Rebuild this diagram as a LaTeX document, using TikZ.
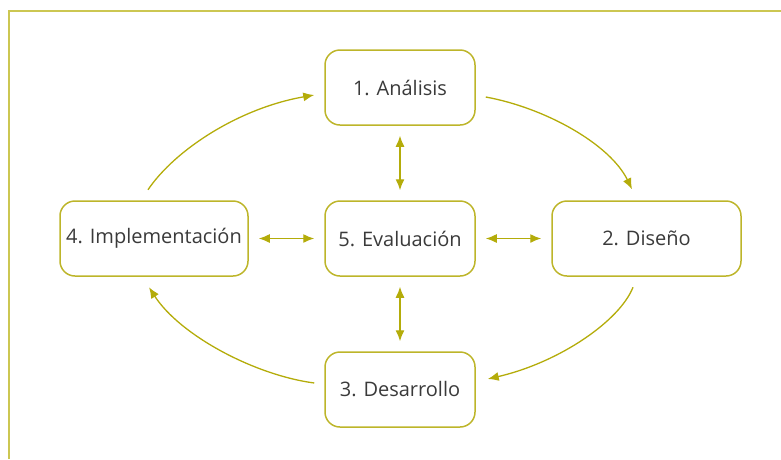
\documentclass[tikz,border=0pt]{standalone}
\usepackage{fontspec}
\setmainfont{Open Sans}
\usetikzlibrary{arrows.meta,calc}
\definecolor{oliva}{HTML}{B4AC0A}
\definecolor{borde}{HTML}{BDB52A}
\definecolor{marco}{HTML}{CCC752}
\definecolor{texto}{HTML}{3A3A3A}
\tikzset{
    fase/.style = {draw=borde, line width=1.5pt, rectangle,
        rounded corners=15pt,
        minimum height=75pt,
        minimum width=150pt,
        text=texto, font=\fontsize{20}{24}\selectfont},
    flecha/.style = {draw=oliva, line width=1.3pt, -{Latex[length=11pt,width=9pt]}},
    doble/.style = {draw=oliva, line width=1.3pt,
        {Latex[length=11pt,width=9pt]}-{Latex[length=11pt,width=9pt]},
        shorten >=10pt, shorten <=10pt}
}
\begin{document}
\begin{tikzpicture}[x=1pt,y=-1pt]
    \useasboundingbox (0,0) rectangle (781,459);
    \draw[marco, line width=2pt] (9,459) -- (9,11) -- (781,11);

    \node[fase] (ana) at (400,87.5) {1. Análisis};
    \node[fase] (eva) at (400,238.5) {5. Evaluación};
    \node[fase, minimum width=188pt] (imp) at (154,238.5) {4. Implementación};
    \node[fase, minimum width=189pt] (dis) at (646.5,238.5) {2. Diseño};
    \node[fase] (des) at (400,389.5) {3. Desarrollo};

    % ciclo
    \draw[flecha] ($(ana.east)+(10,9.5)$) .. controls +(60,11) and +(-22,-45) .. ($(dis.north)+(-14.5,-11)$);
    \draw[flecha] ($(dis.south)+(-13.5,10.5)$) .. controls +(-13,33) and +(73,-17) .. ($(des.east)+(12,-10.5)$);
    \draw[flecha] ($(des.west)+(-10,-6.5)$) .. controls +(-60,-8) and +(31,48) .. ($(imp.south)+(-5,10.5)$);
    \draw[flecha] ($(imp.north)+(-6,-10.5)$) .. controls +(27,-40) and +(-75,13) .. ($(ana.west)+(-10,7.5)$);

    % evaluacion
    \draw[doble] (ana.south) -- (eva.north);
    \draw[doble] (eva.south) -- (des.north);
    \draw[doble] (imp.east) -- (eva.west);
    \draw[doble] (eva.east) -- (dis.west);
\end{tikzpicture}
\end{document}
